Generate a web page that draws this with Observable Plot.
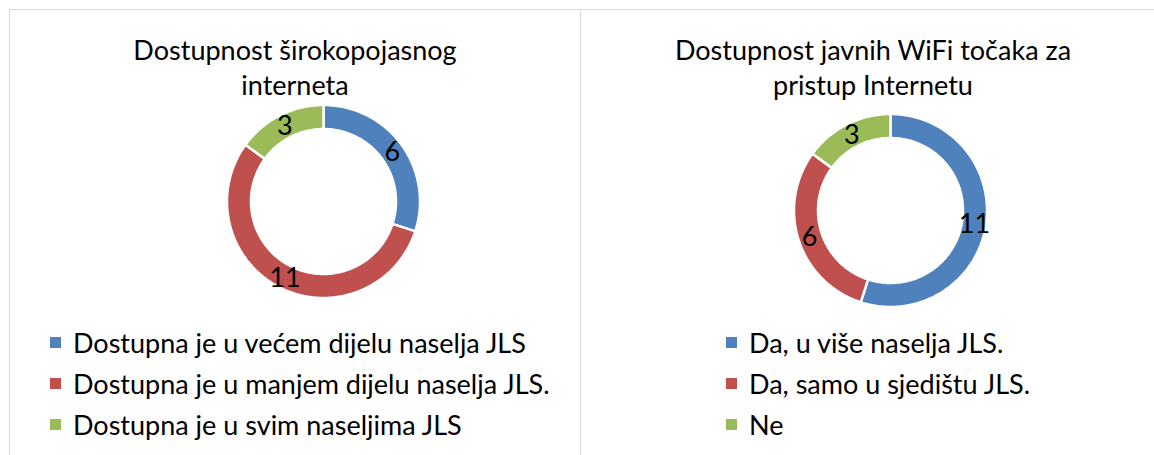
<!DOCTYPE html>
<html>
<head>
<meta charset="utf-8">
<script src="https://cdn.jsdelivr.net/npm/d3@7"></script>
<script src="https://cdn.jsdelivr.net/npm/@observablehq/plot@0.6"></script>
<style>
  html, body { margin: 0; padding: 0; background: #fff; }
  #root { position: relative; width: 1154px; height: 455px; overflow: hidden; font-family: Lato, "Noto Sans", sans-serif; color: #000; }
  .panel { position: absolute; top: 9px; height: 470px; border: 1px solid #d9d9d9; box-sizing: border-box; }
  .title { position: absolute; text-align: center; font-size: 27px; line-height: 35px; white-space: nowrap; }
  .chart { position: absolute; }
  .legend { position: absolute; font-size: 27px; }
  .legend .row { display: flex; align-items: center; height: 41px; white-space: nowrap; }
  .legend .sw { width: 11px; height: 11px; margin-right: 12px; flex: none; }
</style>
</head>
<body>
<div id="root"></div>
<script>
// ---- data ----
const colors = ["#4F81BD", "#C0504D", "#9BBB59"];

const chart1Title = ["Dostupnost širokopojasnog", "interneta"];
const chart1Categories = [
  "Dostupna je u većem dijelu naselja JLS",
  "Dostupna je u manjem dijelu naselja JLS.",
  "Dostupna je u svim naseljima JLS"
];
const chart1Values = [6, 11, 3];

const chart2Title = ["Dostupnost javnih WiFi točaka za", "pristup Internetu"];
const chart2Categories = [
  "Da, u više naselja JLS.",
  "Da, samo u sjedištu JLS.",
  "Ne"
];
const chart2Values = [11, 6, 3];

// ---- layout ----
const root = document.getElementById("root");

function donut(categories, values) {
  const rOuter = 96.5, rInner = 72.5, rLabel = 85;
  const table = categories.map((c, i) => ({cat: c, value: values[i]}));
  const arcs = d3.pie().sort(null).value(d => d.value)(table);
  const pts = [];
  for (const a of arcs) {
    const n = Math.max(8, Math.ceil((a.endAngle - a.startAngle) / 0.02));
    for (let k = 0; k <= n; k++) {
      const t = a.startAngle + (a.endAngle - a.startAngle) * k / n;
      pts.push({cat: a.data.cat, x: rOuter * Math.sin(t), y: rOuter * Math.cos(t)});
    }
    for (let k = n; k >= 0; k--) {
      const t = a.startAngle + (a.endAngle - a.startAngle) * k / n;
      pts.push({cat: a.data.cat, x: rInner * Math.sin(t), y: rInner * Math.cos(t)});
    }
  }
  const labels = arcs.map(a => {
    const m = (a.startAngle + a.endAngle) / 2;
    return {x: rLabel * Math.sin(m), y: rLabel * Math.cos(m), text: String(a.data.value)};
  });
  const size = 230;
  return Plot.plot({
    width: size, height: size, margin: 0,
    x: {domain: [-size / 2, size / 2], axis: null},
    y: {domain: [-size / 2, size / 2], axis: null},
    color: {domain: categories, range: colors},
    style: {background: "transparent", overflow: "visible"},
    marks: [
      Plot.line(pts, {x: "x", y: "y", z: "cat", fill: "cat", stroke: "white", strokeWidth: 2.5, curve: "linear-closed"}),
      Plot.text(labels, {x: "x", y: "y", text: "text", fontSize: 27, fontFamily: "Lato, 'Noto Sans', sans-serif", fill: "black", textAnchor: "middle", dy: 1})
    ]
  });
}

function panel(left, width, title, titleCenter, titleTop, categories, values, cx, cy, legLeft, legTop) {
  const p = document.createElement("div");
  p.className = "panel";
  p.style.left = left + "px";
  p.style.width = width + "px";
  root.appendChild(p);

  const t = document.createElement("div");
  t.className = "title";
  t.style.left = (titleCenter - 300) + "px";
  t.style.width = "600px";
  t.style.top = titleTop + "px";
  t.innerHTML = title.join("<br>");
  root.appendChild(t);

  const svg = donut(categories, values);
  const holder = document.createElement("div");
  holder.className = "chart";
  holder.style.left = (cx - 115) + "px";
  holder.style.top = (cy - 115) + "px";
  holder.appendChild(svg);
  root.appendChild(holder);

  const lg = document.createElement("div");
  lg.className = "legend";
  lg.style.left = legLeft + "px";
  lg.style.top = legTop + "px";
  categories.forEach((c, i) => {
    const row = document.createElement("div");
    row.className = "row";
    const sw = document.createElement("span");
    sw.className = "sw";
    sw.style.background = colors[i];
    const tx = document.createElement("span");
    tx.textContent = c;
    row.appendChild(sw);
    row.appendChild(tx);
    lg.appendChild(row);
  });
  root.appendChild(lg);
}

panel(9, 572, chart1Title, 295, 32, chart1Categories, chart1Values, 323, 201, 50, 322);
panel(580, 590, chart2Title, 873, 32, chart2Categories, chart2Values, 890, 210, 726, 322);
</script>
</body>
</html>
